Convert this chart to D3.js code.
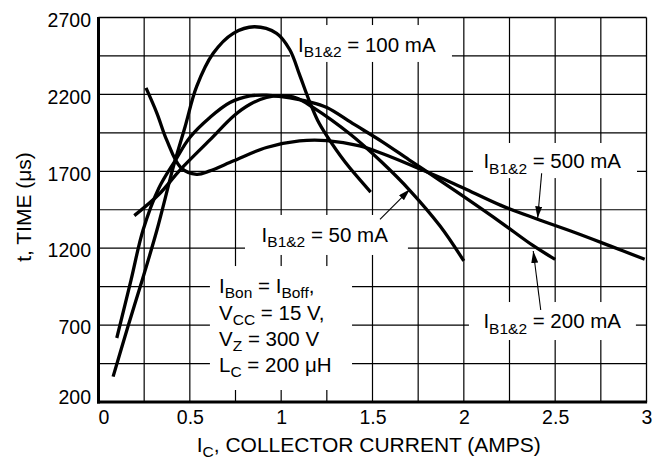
<!DOCTYPE html>
<html>
<head>
<meta charset="utf-8">
<script src="https://cdn.jsdelivr.net/npm/d3@7"></script>
<style>
  body { margin: 0; background: #fff; }
  svg text { font-family: "Liberation Sans", Arial, Helvetica, sans-serif; fill: #000; }
</style>
</head>
<body>
<svg id="chart" width="658" height="461"></svg>
<script>
// ---------------- data ----------------
const xTicks = [0, 0.5, 1, 1.5, 2, 2.5, 3];
const yTicks = [200, 700, 1200, 1700, 2200, 2700];

// IB1&2 = 50 mA
const ic50 = [0.196, 0.33, 0.446, 0.61, 0.74, 0.83, 0.92, 1.0, 1.08, 1.176, 1.377, 1.55, 1.705, 1.87, 2.0];
const t50  = [1412, 1549, 1708, 1904, 2060, 2136, 2180, 2190, 2178, 2114, 1942, 1760, 1575, 1344, 1117];

// IB1&2 = 100 mA
const ic100 = [0.08, 0.16, 0.24, 0.32, 0.41, 0.474, 0.537, 0.628, 0.738, 0.853, 0.975, 1.048, 1.10, 1.15, 1.20, 1.25, 1.35, 1.49];
const t100  = [365, 686, 995, 1318, 1730, 1990, 2250, 2467, 2597, 2640, 2597, 2489, 2330, 2170, 2030, 1930, 1760, 1565];

// IB1&2 = 200 mA
const ic200 = [0.10, 0.178, 0.244, 0.33, 0.42, 0.50, 0.61, 0.72, 0.83, 0.92, 1.0, 1.16, 1.25, 1.40, 1.55, 1.70, 1.87, 2.0, 2.2, 2.38, 2.5];
const t200  = [616, 993, 1318, 1590, 1770, 1920, 2050, 2147, 2190, 2195, 2185, 2150, 2115, 2005, 1895, 1775, 1640, 1535, 1370, 1216, 1127];

// IB1&2 = 500 mA
const ic500 = [0.26, 0.32, 0.373, 0.45, 0.537, 0.61, 0.74, 0.92, 1.10, 1.25, 1.43, 1.56, 1.74, 1.87, 2.0, 2.2, 2.4, 2.6, 2.8, 2.99];
const t500  = [2242, 2077, 1904, 1725, 1680, 1703, 1768, 1855, 1898, 1900, 1865, 1812, 1725, 1660, 1590, 1480, 1390, 1305, 1215, 1128];

const series = [
  { ic: ic50, t: t50 },
  { ic: ic100, t: t100 },
  { ic: ic200, t: t200 },
  { ic: ic500, t: t500 }
];

// ---------------- setup ----------------
const svg = d3.select('#chart');
const x = d3.scaleLinear().domain([0, 3]).range([98.5, 646.5]);
const y = d3.scaleLinear().domain([200, 2700]).range([402, 17.5]);

// grid
const grid = svg.append('g').attr('stroke', '#000').attr('stroke-width', 1.2);
grid.selectAll('line.v')
  .data(d3.range(0.25, 3, 0.25))
  .enter().append('line')
  .attr('x1', d => x(d)).attr('x2', d => x(d))
  .attr('y1', y(2700)).attr('y2', y(200));
grid.selectAll('line.h')
  .data(d3.range(450, 2700, 250))
  .enter().append('line')
  .attr('x1', x(0)).attr('x2', x(3))
  .attr('y1', d => y(d)).attr('y2', d => y(d));

// frame: thin top/right, heavy left/bottom
svg.append('line').attr('x1', x(0)).attr('x2', x(3)).attr('y1', y(2700)).attr('y2', y(2700))
  .attr('stroke', '#000').attr('stroke-width', 1.3);
svg.append('line').attr('x1', x(3)).attr('x2', x(3)).attr('y1', y(2700)).attr('y2', y(200))
  .attr('stroke', '#000').attr('stroke-width', 1.3);
svg.append('line').attr('x1', x(0)).attr('x2', x(0)).attr('y1', y(2700) - 0.5).attr('y2', y(200) + 1.5)
  .attr('stroke', '#000').attr('stroke-width', 3);
svg.append('line').attr('x1', x(0) - 1.5).attr('x2', x(3) + 0.6).attr('y1', y(200)).attr('y2', y(200))
  .attr('stroke', '#000').attr('stroke-width', 3);

// white boxes behind the labels (cut the grid)
const boxes = [
  [1.048, 1.935, 2411, 2651],
  [2.050, 2.948, 1656, 1884],
  [2.028, 2.942, 603, 850],
  [0.802, 1.694, 1156, 1416],
  [0.610, 1.388, 278, 1084]
];
svg.append('g').selectAll('rect')
  .data(boxes)
  .enter().append('rect')
  .attr('x', d => x(d[0]))
  .attr('width', d => x(d[1]) - x(d[0]))
  .attr('y', d => y(d[3]))
  .attr('height', d => y(d[2]) - y(d[3]))
  .attr('fill', '#fff');

// curves
const line = d3.line()
  .x(d => x(d[0]))
  .y(d => y(d[1]))
  .curve(d3.curveCatmullRom.alpha(0.5));

svg.append('g').selectAll('path')
  .data(series)
  .enter().append('path')
  .attr('d', s => line(s.ic.map((v, i) => [v, s.t[i]])))
  .attr('fill', 'none')
  .attr('stroke', '#000')
  .attr('stroke-width', 3.3)
  .attr('stroke-linecap', 'butt')
  .attr('stroke-linejoin', 'round');

// arrows
svg.append('defs').append('marker')
  .attr('id', 'head')
  .attr('markerUnits', 'userSpaceOnUse')
  .attr('markerWidth', 13).attr('markerHeight', 8)
  .attr('refX', 12).attr('refY', 3.5)
  .attr('orient', 'auto')
  .append('path').attr('d', 'M0,0 L12,3.5 L0,7 Z').attr('fill', '#000');

const arrows = [
  [2.426, 1687, 2.404, 1394],
  [2.421, 798, 2.380, 1182],
  [1.541, 1388, 1.705, 1583]
];
svg.append('g').selectAll('line')
  .data(arrows)
  .enter().append('line')
  .attr('x1', d => x(d[0])).attr('y1', d => y(d[1]))
  .attr('x2', d => x(d[2])).attr('y2', d => y(d[3]))
  .attr('stroke', '#000').attr('stroke-width', 1.1)
  .attr('marker-end', 'url(#head)');

// text with subscripts
function rich(g, px, py, parts, size, drop) {
  const t = g.append('text').attr('x', px).attr('y', py).style('font-size', size + 'px');
  let low = false;
  parts.forEach(p => {
    const sub = Array.isArray(p);
    const s = t.append('tspan').text(sub ? p[0] : p);
    if (sub) {
      s.style('font-size', '15.5px').attr('dy', low ? 0 : drop);
      low = true;
    } else if (low) {
      s.attr('dy', -drop);
      low = false;
    }
  });
  return t;
}

const labels = svg.append('g');
rich(labels, x(1.092), y(2476), ['I', ['B1&2'], ' = 100 mA'], 20.5, 5.5);
rich(labels, x(2.107), y(1720), ['I', ['B1&2'], ' = 500 mA'], 20.5, 5.5);
rich(labels, x(2.107), y(681), ['I', ['B1&2'], ' = 200 mA'], 20.5, 5.5);
rich(labels, x(0.893), y(1242), ['I', ['B1&2'], ' = 50 mA'], 20.5, 5.5);
rich(labels, x(0.66), y(908), ['I', ['Bon'], ' = I', ['Boff'], ','], 20.5, 4.5);
rich(labels, x(0.66), y(733), ['V', ['CC'], ' = 15 V,'], 20.5, 4.5);
rich(labels, x(0.66), y(564), ['V', ['Z'], ' = 300 V'], 20.5, 4.5);
rich(labels, x(0.66), y(395), ['L', ['C'], ' = 200 \u03bcH'], 20.5, 4.5);

// axes (labels only)
const tickFont = '"Liberation Sans", Arial, Helvetica, sans-serif';
const xAxis = svg.append('g')
  .attr('transform', `translate(0, ${y(200)})`)
  .call(d3.axisBottom(x).tickValues(xTicks).tickSize(0).tickPadding(8).tickFormat(d3.format('')));
xAxis.select('.domain').remove();
xAxis.selectAll('text')
  .style('font-size', '19.5px')
  .style('font-family', tickFont)
  .attr('dx', d => d === 0 ? 5 : 0);

const yAxis = svg.append('g')
  .attr('transform', `translate(${x(0)}, 0)`)
  .call(d3.axisLeft(y).tickValues(yTicks).tickSize(0).tickPadding(7.5).tickFormat(d3.format('d')));
yAxis.select('.domain').remove();
yAxis.selectAll('text')
  .style('font-size', '19.5px')
  .style('font-family', tickFont)
  .attr('dy', d => d === 200 ? '0.1em' : '0.45em');

// axis titles
rich(svg, 196.7, 452, ['I', ['C'], ', COLLECTOR CURRENT (AMPS)'], 21, 4.5);
svg.append('text')
  .attr('transform', 'translate(31, 207) rotate(-90)')
  .style('font-size', '21px')
  .style('text-anchor', 'middle')
  .text('t, TIME (\u03bcs)');
</script>
</body>
</html>
